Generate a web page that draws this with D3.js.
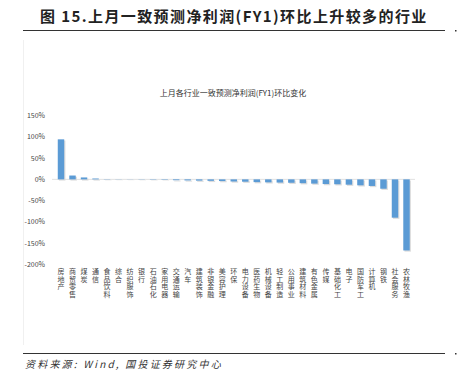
<!DOCTYPE html>
<html>
<head>
<meta charset="utf-8">
<script src="https://cdn.jsdelivr.net/npm/d3@7"></script>
<style>
  body { margin: 0; background: #fff; }
  svg { display: block; font-family: "Noto Sans CJK SC", "Noto Sans", sans-serif; }
</style>
</head>
<body>
<svg id="chart"></svg>
<script>
const width = 458
const height = 382

const categories = ['房地产', '商贸零售', '煤炭', '通信', '食品饮料', '综合', '纺织服饰', '银行',
  '石油石化', '家用电器', '交通运输', '汽车', '建筑装饰', '非银金融', '美容护理', '环保',
  '电力设备', '医药生物', '机械设备', '轻工制造', '公用事业', '建筑材料', '有色金属', '传媒',
  '基础化工', '电子', '国防军工', '计算机', '钢铁', '社会服务', '农林牧渔']
const values = [94, 9, 4.5, 2, 0.6, 0.4, -0.3, -0.5, -0.8, -1, -2, -2.5, -3, -3.5, -4, -5,
  -5.5, -6.5, -7, -7.5, -8, -9, -10, -11, -11.5, -12.5, -14, -15.5, -22, -90, -167]
const yTicks = [150, 100, 50, 0, -50, -100, -150, -200]

const svg = d3.select('#chart').attr('width', width).attr('height', height)

// header
svg.append('text')
  .attr('x', 40).attr('y', 22)
  .attr('font-size', 15).attr('font-weight', 'bold').attr('fill', '#222')
  .attr('letter-spacing', 1.4)
  .text('图 15.上月一致预测净利润(FY1)环比上升较多的行业')
svg.append('line').attr('x1', 23).attr('x2', 445).attr('y1', 30.5).attr('y2', 30.5)
  .attr('stroke', '#333').attr('stroke-width', 1)
svg.append('rect').attr('x', 455).attr('y', 30).attr('width', 1.5).attr('height', 1.5).attr('fill', '#333')

// faint frame on the left
svg.append('line').attr('x1', 23.5).attr('x2', 23.5).attr('y1', 40).attr('y2', 345)
  .attr('stroke', '#f0f0f0')

svg.append('text')
  .attr('x', 233).attr('y', 96).attr('text-anchor', 'middle')
  .attr('font-size', 8).attr('fill', '#333')
  .text('上月各行业一致预测净利润(FY1)环比变化')

const x = d3.scaleBand().domain(categories).range([52.7, 414.8]).padding(0.44)
const y = d3.scaleLinear().domain([-200, 150]).range([264.5, 115.5])

// y axis labels
svg.append('g').selectAll('text').data(yTicks).join('text')
  .attr('x', 45).attr('y', d => y(d) + 2.5)
  .attr('text-anchor', 'end').attr('font-size', 7).attr('fill', '#444')
  .text(d => d + '%')

// shadows
svg.append('g').selectAll('rect').data(values).join('rect')
  .attr('x', (d, i) => x(categories[i]) + 1.2)
  .attr('y', d => Math.min(y(d), y(0)) + 1.2)
  .attr('width', x.bandwidth())
  .attr('height', d => Math.abs(y(d) - y(0)))
  .attr('fill', '#bbb').attr('opacity', 0.5)

svg.append('line').attr('x1', 52).attr('x2', 415).attr('y1', y(0)).attr('y2', y(0))
  .attr('stroke', '#d9d9d9').attr('stroke-width', 0.8)

svg.append('g').selectAll('rect').data(values).join('rect')
  .attr('x', (d, i) => x(categories[i]))
  .attr('y', d => Math.min(y(d), y(0)))
  .attr('width', x.bandwidth())
  .attr('height', d => Math.abs(y(d) - y(0)))
  .attr('fill', '#5b9bd5')

// category labels, written vertically
svg.append('g').selectAll('text').data(categories).join('text')
  .attr('x', d => x(d) + x.bandwidth() / 2)
  .attr('y', 268)
  .style('writing-mode', 'vertical-rl')
  .attr('letter-spacing', 0.6)
  .attr('font-size', 7).attr('fill', '#444')
  .text(d => d)

// footer
svg.append('line').attr('x1', 23).attr('x2', 445).attr('y1', 353.5).attr('y2', 353.5)
  .attr('stroke', '#333').attr('stroke-width', 1)
svg.append('rect').attr('x', 455).attr('y', 353).attr('width', 1.5).attr('height', 1.5).attr('fill', '#333')
svg.append('text')
  .attr('x', 25).attr('y', 368)
  .attr('font-size', 10).attr('font-style', 'italic').attr('fill', '#333')
  .attr('letter-spacing', 2.2)
  .text('资料来源: Wind, 国投证券研究中心')
</script>
</body>
</html>
